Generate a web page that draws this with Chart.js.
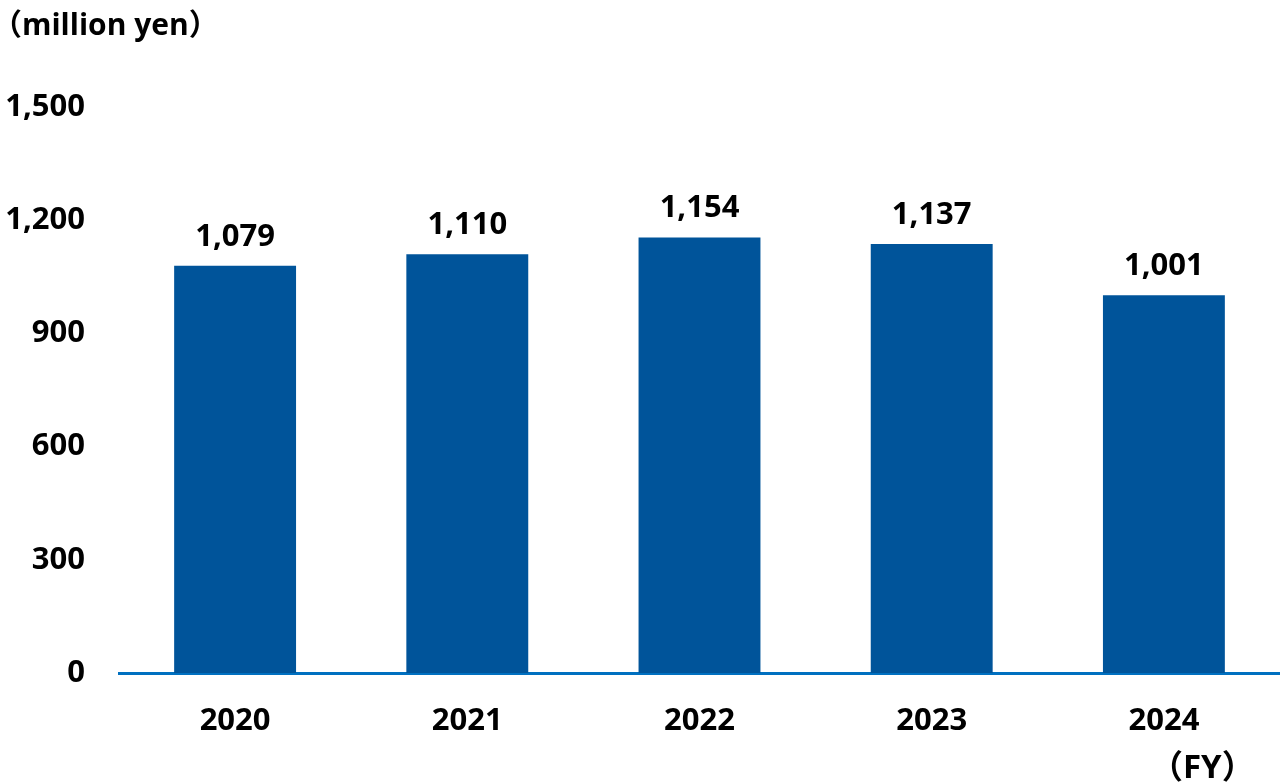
<!DOCTYPE html>
<html>
<head>
<meta charset="utf-8">
<script src="https://cdn.jsdelivr.net/npm/chart.js@4"></script>
<style>
  body { margin: 0; background: #fff; }
  #wrap { position: relative; width: 1280px; height: 784px; }
  .note { position: absolute; font-family: "Open Sans", "Noto Sans CJK JP", sans-serif; font-weight: bold; font-size: 30px; color: #000; white-space: nowrap; }
</style>
</head>
<body>
<div id="wrap">
  <canvas id="grafico" width="1280" height="784"></canvas>
  <div class="note" style="left:-8px; top:0px;">（million yen）</div>
  <div class="note" style="left:1150px; top:740px; font-size:33px;">（FY）</div>
</div>
<script>
const anos = ["2020", "2021", "2022", "2023", "2024"];
const valores = [1079, 1110, 1154, 1137, 1001];
const ticksY = [0, 300, 600, 900, 1200, 1500];

const fonte = { family: '"Open Sans", sans-serif', weight: 'bold', size: 31 };

// escreve o valor em cima de cada barra
const rotulos = {
    id: 'rotulos',
    afterDatasetsDraw(chart) {
        const ctx = chart.ctx;
        const meta = chart.getDatasetMeta(0);
        ctx.save();
        ctx.font = 'bold 31px "Open Sans", sans-serif';
        ctx.fillStyle = '#000';
        ctx.textAlign = 'center';
        ctx.textBaseline = 'middle';
        meta.data.forEach(function (barra, i) {
            ctx.fillText(valores[i].toLocaleString('en-US'), barra.x, barra.y - 29);
        });
        ctx.restore();
    }
};

const config = {
    type: 'bar',
    data: {
        labels: anos,
        datasets: [{
            data: valores,
            backgroundColor: '#00549A',
            barPercentage: 1,
            categoryPercentage: 0.525
        }]
    },
    options: {
        responsive: false,
        animation: false,
        layout: { padding: { top: 107, right: 0, left: 0, bottom: 0 } },
        plugins: { legend: { display: false }, tooltip: { enabled: false } },
        scales: {
            x: {
                grid: { display: false, drawTicks: false },
                border: { color: '#0070C0', width: 3 },
                ticks: { color: '#000', font: fonte, padding: 30 },
                afterFit(scale) { scale.height = 111; }
            },
            y: {
                min: 0,
                max: 1500,
                grid: { display: false, drawTicks: false },
                border: { display: false },
                afterBuildTicks(scale) { scale.ticks = ticksY.map(v => ({ value: v })); },
                ticks: {
                    color: '#000',
                    font: fonte,
                    padding: 34,
                    callback: v => v.toLocaleString('en-US')
                },
                afterFit(scale) { scale.width = 119; }
            }
        }
    },
    plugins: [rotulos]
};

new Chart(document.getElementById('grafico'), config);
</script>
</body>
</html>
